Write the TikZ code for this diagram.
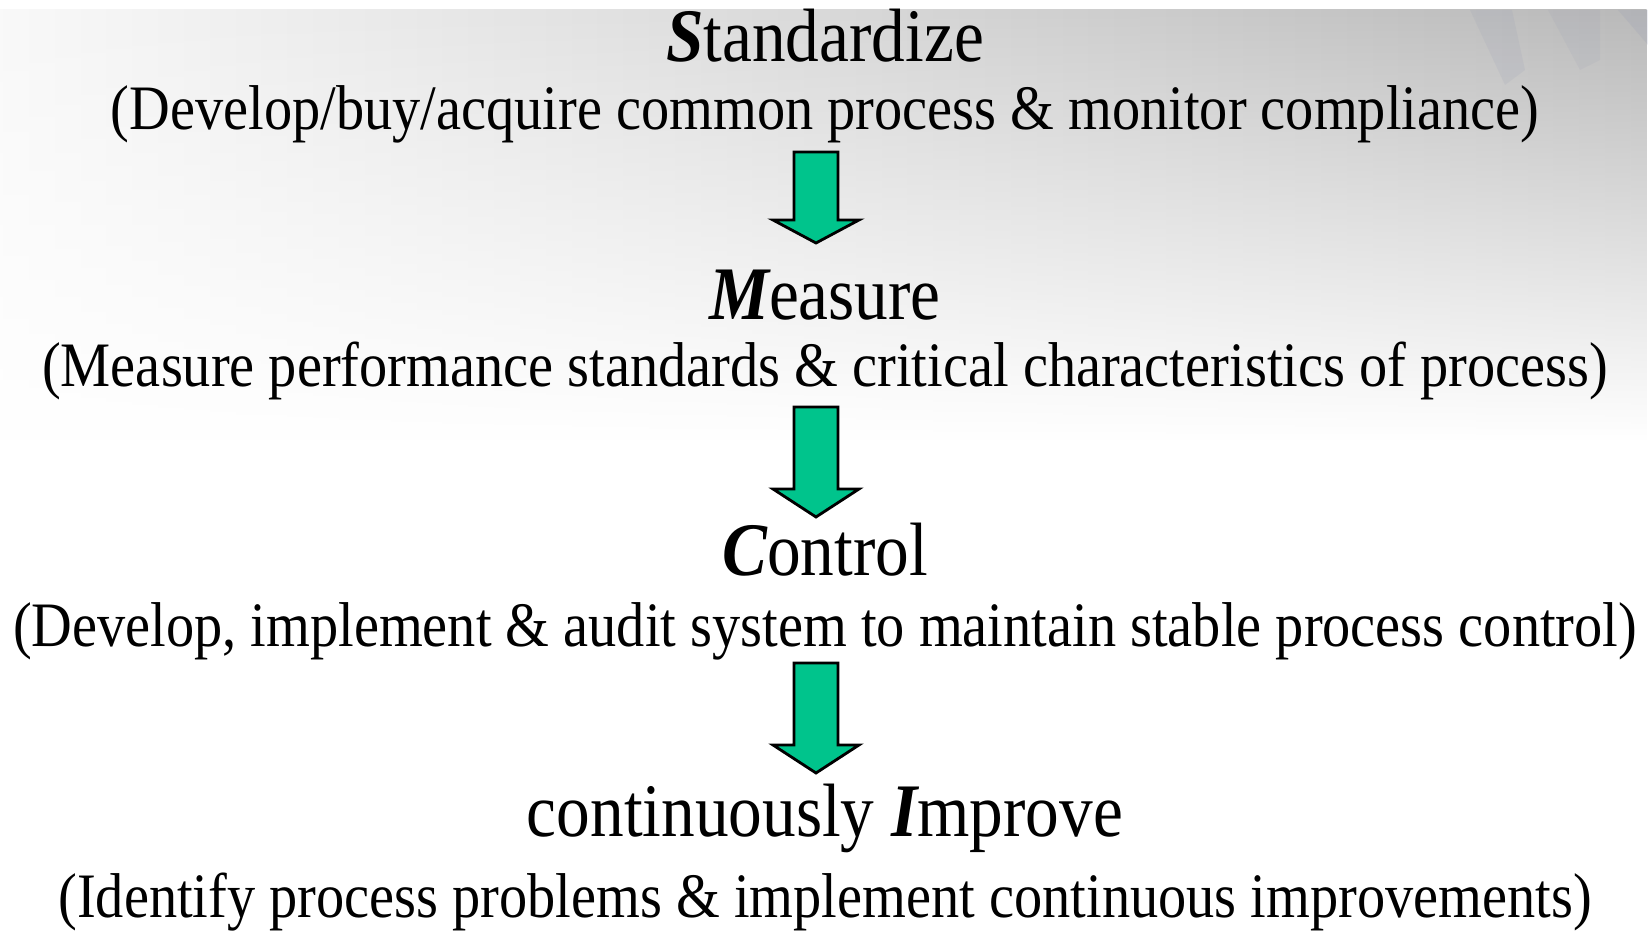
\documentclass[tikz,border=0pt]{standalone}
\usepackage{fontspec}
\setmainfont{Liberation Serif}[FakeStretch=0.89]
\usetikzlibrary{fadings}
\definecolor{arrowgreen}{RGB}{0,196,140}
\definecolor{swoosh}{RGB}{140,146,175}
\tikzfading[name=fadedown, top color=transparent!0, bottom color=transparent!100]

\begin{document}
\begin{tikzpicture}[x=0.01cm, y=-0.01cm,
  title/.style={anchor=base, inner sep=0pt, font=\fontsize{21.5}{24}\selectfont},
  note/.style={anchor=base, inner sep=0pt, font=\fontsize{18}{20}\selectfont},
  greenarrow/.style={fill=arrowgreen, draw=black, line width=0.8pt, line join=miter}]
% Background
\useasboundingbox (0,0) rectangle (1648,931);
\fill[white] (0,0) rectangle (1648,931);
\shade[left color=gray!5, right color=gray!55, path fading=fadedown] (0,10) rectangle (1648,440);
\fill[swoosh, opacity=0.12] (1470,10) -- (1512,10) -- (1525,70) -- (1505,85) -- cycle;
\fill[swoosh, opacity=0.1] (1548,10) -- (1600,10) -- (1600,60) -- (1580,70) -- cycle;
\fill[swoosh, opacity=0.15] (1618,10) -- (1648,10) -- (1648,45) -- cycle;

% Steps
\node[title] (std) at (825,62) {{\bfseries\itshape S}tandardize};
\node[note] (stdnote) at (825,130) {(Develop/buy/acquire common process \& monitor compliance)};
\node[title] (meas) at (825,320) {{\bfseries\itshape M}easure};
\node[note] (measnote) at (825,387) {(Measure performance standards \& critical characteristics of process)};
\node[title] (ctrl) at (825,576) {{\bfseries\itshape C}ontrol};
\node[note] (ctrlnote) at (825,647) {(Develop, implement \& audit system to maintain stable process control)};
\node[title] (impr) at (825,837) {continuously {\bfseries\itshape I}mprove};
\node[note] (imprnote) at (825,917) {(Identify process problems \& implement continuous improvements)};

% Arrows
\foreach \top/\base/\tip in {152/220/243, 407/489/517, 663/745/773}
  \draw[greenarrow] (794,\top) -- (838,\top) -- (838,\base) -- (859,\base)
    -- (816,\tip) -- (773,\base) -- (794,\base) -- cycle;
\end{tikzpicture}
\end{document}
